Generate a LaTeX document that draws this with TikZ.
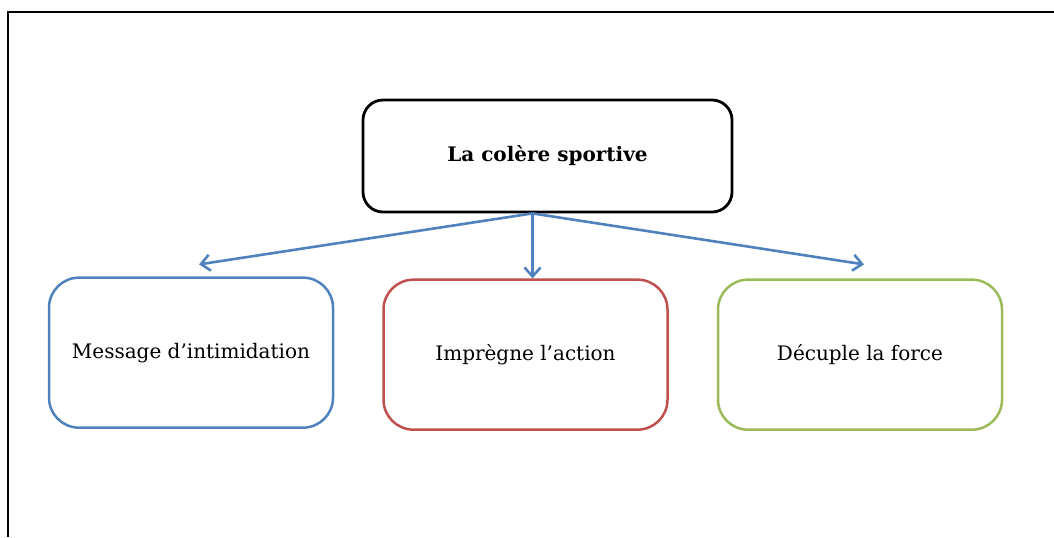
\documentclass[tikz,border=0pt]{standalone}
\usepackage{fontspec}
\setmainfont{DejaVu Serif}
\usepackage{tikz}
\usetikzlibrary{arrows.meta,positioning}
\definecolor{accblue}{HTML}{4F81BD}
\definecolor{accred}{HTML}{C0504D}
\definecolor{accgreen}{HTML}{9BBB59}

\begin{document}
\begin{tikzpicture}[x=0.5pt,y=-0.5pt,>={Straight Barb[length=4.5pt,width=8pt]},
    main/.style={draw=black,rounded corners=10pt,minimum width=184.5pt,minimum height=56pt,
      line width=1.4pt,font=\bfseries\fontsize{10}{12}\selectfont},
    box/.style={rounded corners=15pt,minimum width=142pt,minimum height=75pt,
      line width=1.25pt,font=\fontsize{10}{12}\selectfont},
    link/.style={->,draw=accblue,line width=1.3pt}]
    \useasboundingbox (0,0) rectangle (1054,537);
    \draw[line width=1.3pt] (8,537) -- (8,12) -- (1054,12);
    \node[main] (root) at (547.5,156) {La colère sportive};
    \node[box,draw=accred] (act) [below = 32.5pt of root, xshift=-11pt] {Imprègne l’action};
    \node[box,draw=accblue] (msg) [left = 24pt of act, yshift=1pt] {Message d’intimidation};
    \node[box,draw=accgreen] (force) [right = 24pt of act] {Décuple la force};
    \coordinate (hub) at ([xshift=-7.5pt]root.south);
    \draw[link] (hub) -- ([xshift=4pt,yshift=6pt]msg.north);
    \draw[link] (hub) -- (hub |- act.north);
    \draw[link] (hub) -- ([xshift=2pt,yshift=7pt]force.north);
  \end{tikzpicture}
\end{document}
